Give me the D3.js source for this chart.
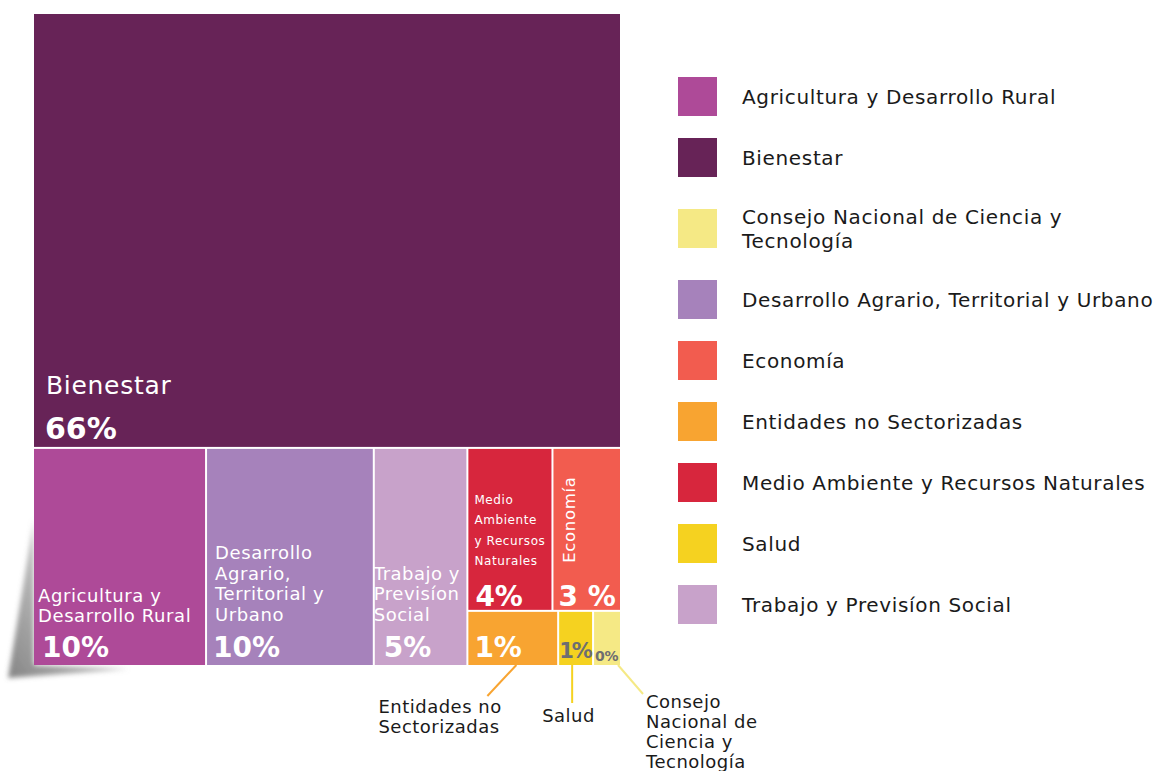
<!DOCTYPE html>
<html>
<head>
<meta charset="utf-8">
<script src="https://cdn.jsdelivr.net/npm/d3@7"></script>
<style>
  body { margin: 0; background: #ffffff; }
  svg { display: block; font-family: "DejaVu Sans", sans-serif; }
</style>
</head>
<body>
<svg id="chart" width="1155" height="771"></svg>
<script>
// Budget share by sector (percent)
const sectors = [
  "Bienestar",
  "Agricultura y Desarrollo Rural",
  "Desarrollo Agrario, Territorial y Urbano",
  "Trabajo y Previsíon Social",
  "Medio Ambiente y Recursos Naturales",
  "Economía",
  "Entidades no Sectorizadas",
  "Salud",
  "Consejo Nacional de Ciencia y Tecnología"
];
const shares = [66.4, 9.8, 9.5, 5.3, 3.6, 2.9, 1.3, 0.5, 0.4];
const sectorColors = [
  "#672357", "#ae4a98", "#a682bb", "#c8a2ca",
  "#d7263d", "#f25c4f", "#f8a431", "#f5d220", "#f5e985"
];
const legendOrder = [
  "Agricultura y Desarrollo Rural",
  "Bienestar",
  "Consejo Nacional de Ciencia y Tecnología",
  "Desarrollo Agrario, Territorial y Urbano",
  "Economía",
  "Entidades no Sectorizadas",
  "Medio Ambiente y Recursos Naturales",
  "Salud",
  "Trabajo y Previsíon Social"
];

const svg = d3.select("#chart");
const color = d3.scaleOrdinal().domain(sectors).range(sectorColors);
const leaf = i => ({ name: sectors[i], value: shares[i] });

// Nested grouping: big block on top, the rest in a row underneath,
// with the smallest sectors stacked in the last column.
const tree = {
  name: "root",
  children: [
    leaf(0),
    { name: "resto", children: [
      leaf(1), leaf(2), leaf(3),
      { name: "menores", children: [
        { name: "fila1", children: [leaf(4), leaf(5)] },
        { name: "fila2", children: [leaf(6), leaf(7), leaf(8)] }
      ]}
    ]}
  ]
};

const root = d3.hierarchy(tree).sum(d => d.value || 0);
const tile = (node, x0, y0, x1, y1) =>
  (node.depth % 2 === 0 ? d3.treemapSlice : d3.treemapDice)(node, x0, y0, x1, y1);
d3.treemap().tile(tile).size([586, 651]).paddingInner(2).round(false)(root);

// Shadow of the lifted corner
const defs = svg.append("defs");
const grad = defs.append("linearGradient").attr("id", "curlShade")
  .attr("x1", "1").attr("y1", "0").attr("x2", "0").attr("y2", "1");
grad.append("stop").attr("offset", "0").attr("stop-color", "#a0a0a0").attr("stop-opacity", 0.0);
grad.append("stop").attr("offset", "0.5").attr("stop-color", "#929292").attr("stop-opacity", 0.6);
grad.append("stop").attr("offset", "1").attr("stop-color", "#777777").attr("stop-opacity", 0.9);
defs.append("filter").attr("id", "soft").append("feGaussianBlur").attr("stdDeviation", 2.5);

const plot = svg.append("g").attr("transform", "translate(34,14)");
plot.append("path")
  .attr("d", "M0,505 L-26,664 L95,655 L0,651 Z")
  .attr("fill", "url(#curlShade)")
  .attr("filter", "url(#soft)");

const leaves = root.leaves();
plot.selectAll("rect.cell").data(leaves).join("rect")
  .attr("class", "cell")
  .attr("x", d => d.x0).attr("y", d => d.y0)
  .attr("width", d => d.x1 - d.x0).attr("height", d => d.y1 - d.y0)
  .attr("fill", d => color(d.data.name));

// In-cell label styling
const cellLabels = {
  "Bienestar": { lines: ["Bienestar"], size: 25, ls: 0.7, lh: 0, nameDx: 12, nameDy: -53, pct: 30, pctDx: 11, pctDy: -8 },
  "Agricultura y Desarrollo Rural": { lines: ["Agricultura y", "Desarrollo Rural"], size: 18, ls: 0.6, lh: 20.5, nameDx: 4, nameDy: -43, pct: 28, pctDx: 8, pctDy: -8 },
  "Desarrollo Agrario, Territorial y Urbano": { lines: ["Desarrollo", "Agrario,", "Territorial y", "Urbano"], size: 18, ls: 0.6, lh: 20.7, nameDx: 8, nameDy: -44, pct: 28, pctDx: 6, pctDy: -8 },
  "Trabajo y Previsíon Social": { lines: ["Trabajo y", "Previsíon", "Social"], size: 18, ls: 0.5, lh: 20.7, nameDx: -1, nameDy: -44, pct: 28, pctDx: 9, pctDy: -8 },
  "Medio Ambiente y Recursos Naturales": { lines: ["Medio", "Ambiente", "y Recursos", "Naturales"], size: 12, ls: 0.6, lh: 20.3, nameDx: 6, nameDy: -45, pct: 28, pctDx: 7, pctDy: -4 },
  "Economía": { lines: ["Economía"], size: 16.5, ls: 0.7, rotate: true, nameDx: 22, nameDy: -47, pct: 28, pctDx: 5, pctDy: -4, sep: " " },
  "Entidades no Sectorizadas": { lines: [], pct: 28, pctDx: 6, pctDy: -8 },
  "Salud": { lines: [], pct: 21, pctDx: 0, pctDy: -7, pls: -2, dark: true },
  "Consejo Nacional de Ciencia y Tecnología": { lines: [], pct: 14, pctDx: 1, pctDy: -4, pls: -0.3, dark: true }
};

const labels = plot.selectAll("g.lbl").data(leaves).join("g").attr("class", "lbl");
labels.each(function (d) {
  const cfg = cellLabels[d.data.name];
  const g = d3.select(this);
  const n = cfg.lines.length;
  if (cfg.rotate) {
    g.append("text")
      .attr("transform", `translate(${d.x0 + cfg.nameDx},${d.y1 + cfg.nameDy}) rotate(-90)`)
      .attr("fill", "#fff").attr("font-size", cfg.size).attr("letter-spacing", cfg.ls)
      .text(cfg.lines[0]);
  } else {
    cfg.lines.forEach((line, i) => {
      g.append("text")
        .attr("x", d.x0 + cfg.nameDx)
        .attr("y", d.y1 + cfg.nameDy - (n - 1 - i) * cfg.lh)
        .attr("fill", "#fff").attr("font-size", cfg.size)
        .attr("letter-spacing", cfg.ls)
        .text(line);
    });
  }
  g.append("text")
    .attr("x", d.x0 + cfg.pctDx).attr("y", d.y1 + cfg.pctDy)
    .attr("fill", cfg.dark ? "#6d6e71" : "#fff")
    .attr("font-size", cfg.pct).attr("font-weight", "bold")
    .attr("letter-spacing", cfg.pls || 0)
    .text(Math.round(d.data.value) + (cfg.sep || "") + "%");
});

// Callouts for the smallest cells
const callouts = {
  "Entidades no Sectorizadas": { from: [48, 0], to: [19, 31], lines: ["Entidades no", "Sectorizadas"], tx: -90, ty: 48 },
  "Salud": { from: [13, 0], to: [13, 38], lines: ["Salud"], tx: -17, ty: 57 },
  "Consejo Nacional de Ciencia y Tecnología": { from: [-2, 0], to: [23, 29], lines: ["Consejo", "Nacional de", "Ciencia y", "Tecnología"], tx: 26, ty: 43, anchorRight: true }
};
leaves.filter(d => callouts[d.data.name]).forEach(d => {
  const c = callouts[d.data.name];
  const bx = c.anchorRight ? d.x1 : d.x0;
  plot.append("line")
    .attr("x1", bx + c.from[0]).attr("y1", d.y1 + c.from[1])
    .attr("x2", bx + c.to[0]).attr("y2", d.y1 + c.to[1])
    .attr("stroke", color(d.data.name)).attr("stroke-width", 2);
  c.lines.forEach((line, i) => {
    plot.append("text")
      .attr("x", bx + c.tx).attr("y", d.y1 + c.ty + i * 20)
      .attr("fill", "#1a1a1a").attr("font-size", 18).attr("letter-spacing", 0.5)
      .text(line);
  });
});

// Legend
const legendLines = name => name === "Consejo Nacional de Ciencia y Tecnología"
  ? ["Consejo Nacional de Ciencia y", "Tecnología"] : [name];
let ly = 77;
const legendY = legendOrder.map((name, i) => {
  if (i > 0) {
    const extra = (legendLines(name).length > 1 || legendLines(legendOrder[i - 1]).length > 1) ? 10 : 0;
    ly += 61 + extra;
  }
  return ly;
});
const legend = svg.append("g").attr("transform", "translate(678,0)");
const items = legend.selectAll("g").data(legendOrder).join("g")
  .attr("transform", (d, i) => `translate(0,${legendY[i]})`);
items.append("rect").attr("width", 39).attr("height", 39).attr("fill", d => color(d));
items.append("text")
  .attr("fill", "#1a1a1a").attr("font-size", 20).attr("letter-spacing", 0.65)
  .each(function (d) {
    const lines = legendLines(d);
    d3.select(this).selectAll("tspan").data(lines).join("tspan")
      .attr("x", 64)
      .attr("y", (l, i) => (lines.length > 1 ? 15 : 27) + i * 23.5)
      .text(l => l);
  });
</script>
</body>
</html>
